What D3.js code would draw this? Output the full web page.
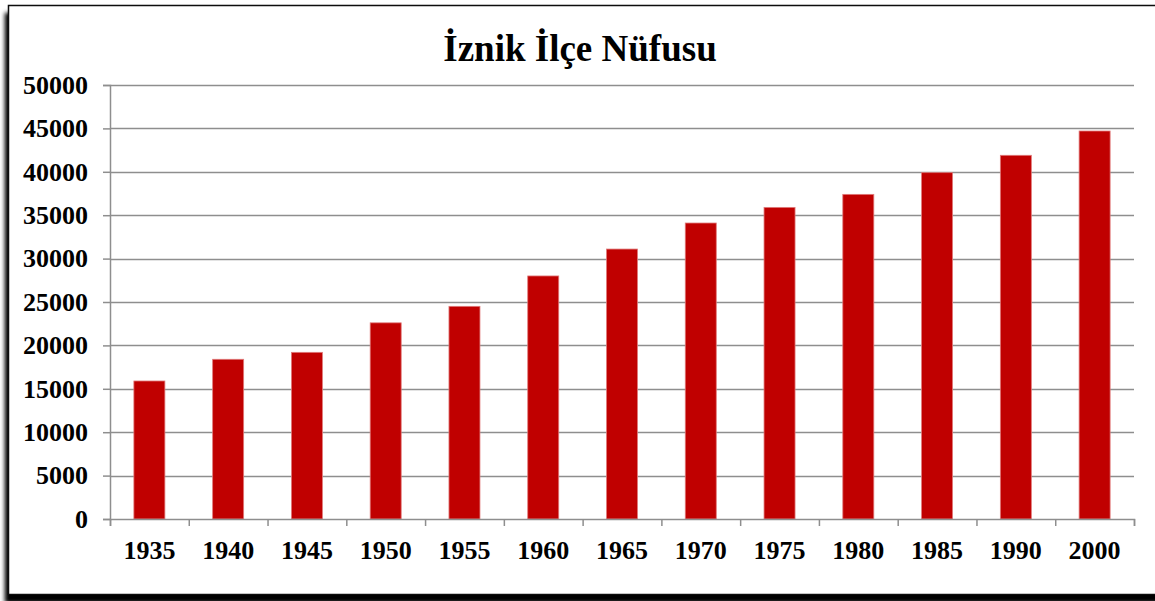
<!DOCTYPE html>
<html>
<head>
<meta charset="utf-8">
<script src="https://cdn.jsdelivr.net/npm/d3@7"></script>
<style>
  html, body { margin: 0; padding: 0; background: #fff; overflow: hidden; }
</style>
</head>
<body>
<svg id="chart"></svg>
<script>
const width = 1155;
const height = 601;
const margin = {top: 85, right: 21, bottom: 82, left: 110};

// chart data
const years = ["1935", "1940", "1945", "1950", "1955", "1960", "1965", "1970", "1975", "1980", "1985", "1990", "2000"];
const population = [15900, 18400, 19200, 22600, 24500, 28000, 31100, 34100, 35900, 37400, 39900, 41900, 44700];
const yTicks = [0, 5000, 10000, 15000, 20000, 25000, 30000, 35000, 40000, 45000, 50000];
const title = "İznik İlçe Nüfusu";

const font = '"Liberation Serif", "Times New Roman", serif';

const svg = d3.select('#chart')
    .attr('width', width)
    .attr('height', height)
    .attr('viewBox', [0, 0, width, height]);

// frame with shadow to the left and bottom
const defs = svg.append('defs');
const shadow = defs.append('filter').attr('id', 'frameShadow')
    .attr('x', -0.05).attr('y', -0.05).attr('width', 1.1).attr('height', 1.1);
shadow.append('feDropShadow')
    .attr('dx', -3).attr('dy', 8)
    .attr('stdDeviation', 2.2)
    .attr('flood-color', '#000')
    .attr('flood-opacity', 1);

svg.append('rect')
    .attr('x', 8.5).attr('y', 5.5)
    .attr('width', 1170).attr('height', 589)
    .attr('fill', '#fff')
    .attr('stroke', '#111')
    .attr('stroke-width', 1.5)
    .attr('filter', 'url(#frameShadow)');

// one slot per category, bar centred in its slot
const x = d3.scaleBand(years, [margin.left, width - margin.right]);
const barWidth = 31;

const y = d3.scaleLinear([0, 50000], [height - margin.bottom, margin.top]);

// gridlines
svg.append('g')
    .selectAll('line')
    .data(yTicks.slice(1))
    .join('line')
      .attr('x1', margin.left)
      .attr('x2', width - margin.right)
      .attr('y1', d => Math.round(y(d)) + 0.5)
      .attr('y2', d => Math.round(y(d)) + 0.5)
      .attr('stroke', '#8e8e8e')
      .attr('stroke-width', 1.3);

// bars
svg.append('g')
    .selectAll('rect')
    .data(population)
    .join('rect')
      .attr('x', (d, i) => x(years[i]) + (x.bandwidth() - barWidth) / 2)
      .attr('y', d => y(d))
      .attr('width', barWidth)
      .attr('height', d => y(0) - y(d))
      .attr('fill', '#c00000')
      .attr('stroke', '#e07a7a')
      .attr('stroke-width', 0.8);

// y axis
const yAxis = svg.append('g')
    .attr('transform', `translate(${margin.left},0)`)
    .call(d3.axisLeft(y).tickValues(yTicks).tickSize(7).tickPadding(15).tickFormat(d3.format('d')));

// x axis with tick marks between categories
const xEdge = d3.scaleLinear([0, years.length], [margin.left, width - margin.right]);
const xAxis = svg.append('g')
    .attr('transform', `translate(0,${y(0)})`)
    .call(d3.axisBottom(xEdge).tickValues(d3.range(years.length + 1)).tickSize(7).tickFormat(''));

[yAxis, xAxis].forEach(a => {
  a.select('.domain').attr('stroke', '#8e8e8e').attr('stroke-width', 1.5);
  a.selectAll('.tick line').attr('stroke', '#8e8e8e').attr('stroke-width', 1.5);
});

yAxis.selectAll('text')
    .attr('fill', '#000')
    .attr('font-family', font)
    .attr('font-weight', 'bold')
    .attr('font-size', '26px');

svg.append('g')
    .selectAll('text')
    .data(years)
    .join('text')
      .attr('x', d => x(d) + x.bandwidth() / 2)
      .attr('y', 559)
      .attr('text-anchor', 'middle')
      .attr('fill', '#000')
      .attr('font-family', font)
      .attr('font-weight', 'bold')
      .attr('font-size', '26px')
      .text(d => d);

svg.append('text')
    .attr('x', 580)
    .attr('y', 61)
    .attr('text-anchor', 'middle')
    .attr('fill', '#000')
    .attr('font-family', font)
    .attr('font-weight', 'bold')
    .attr('font-size', '37px')
    .text(title);
</script>
</body>
</html>
